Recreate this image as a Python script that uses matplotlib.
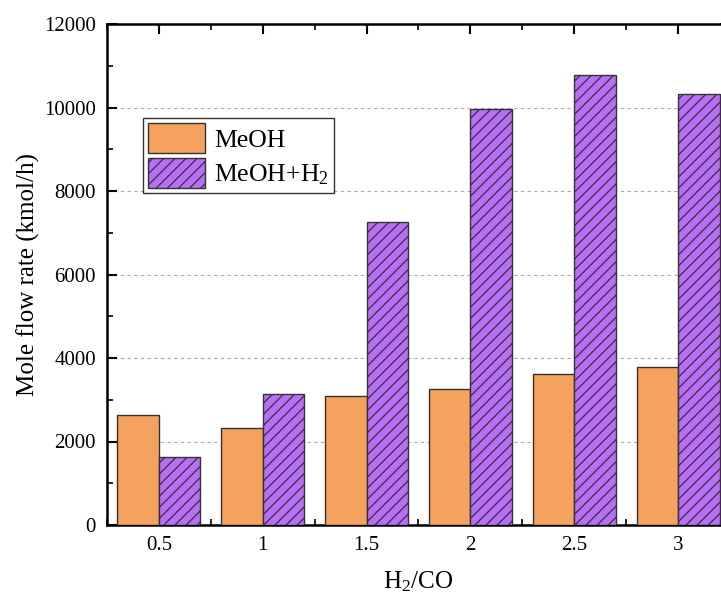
import matplotlib
matplotlib.use("Agg")
import matplotlib.pyplot as plt
import numpy as np
from matplotlib.ticker import MultipleLocator

ratios = [0.5, 1, 1.5, 2, 2.5, 3]
meoh = [2642, 2316, 3090, 3265, 3609, 3792]
meoh_h2 = [1636, 3137, 7264, 9963, 10778, 10323]
labels = ["MeOH", "MeOH+H$_2$"]

plt.rcParams['font.family'] = ['Liberation Serif', 'DejaVu Serif']
plt.rcParams['mathtext.fontset'] = 'custom'
plt.rcParams['mathtext.rm'] = 'Liberation Serif'
plt.rcParams['mathtext.it'] = 'Liberation Serif:italic'
plt.rcParams['hatch.linewidth'] = 0.9
plt.rcParams['hatch.color'] = '#222222'

fig = plt.figure(figsize=(7.21, 5.98), dpi=100)
ax = fig.add_axes([107/721, 1 - 525/598, 623/721, 501/598])

x = np.array(ratios)
w = 0.2
ax.bar(x - w/2, meoh, width=w, color='#F5A25E', edgecolor='#333333', linewidth=1.0,
       label=labels[0], zorder=3)
ax.bar(x + w/2, meoh_h2, width=w, color='#B86EF7', edgecolor='#333333', linewidth=1.0,
       hatch='///', label=labels[1], zorder=3)

ax.set_xlim(0.25, 3.25)
ax.set_ylim(0, 12000)
ax.set_xticks(ratios)
ax.set_xticklabels(['0.5', '1', '1.5', '2', '2.5', '3'])
ax.xaxis.set_minor_locator(MultipleLocator(0.25))
ax.yaxis.set_major_locator(MultipleLocator(2000))
ax.yaxis.set_minor_locator(MultipleLocator(1000))

ax.tick_params(which='both', direction='in', top=True, right=True, labelsize=15, pad=8)
ax.tick_params(which='major', length=7, width=1.5)
ax.tick_params(which='minor', length=4, width=1.2)
for s in ax.spines.values():
    s.set_linewidth(1.8)

ax.yaxis.grid(True, linestyle=(0, (3, 3)), color='#aaaaaa', linewidth=0.8, zorder=0)
ax.set_axisbelow(True)

ax.set_xlabel("H$_2$/CO", fontsize=18, labelpad=10)
ax.set_ylabel("Mole flow rate (kmol/h)", fontsize=18, labelpad=3)

leg = ax.legend(loc='upper left', bbox_to_anchor=(0.058, 0.812), borderaxespad=0,
                fontsize=18.5, handlelength=2.2, handleheight=1.4, handletextpad=0.35,
                labelspacing=0.2, borderpad=0.2, fancybox=False, framealpha=1,
                edgecolor='#333333')
leg.get_frame().set_linewidth(1.0)

fig.savefig("out.png", dpi=100)
